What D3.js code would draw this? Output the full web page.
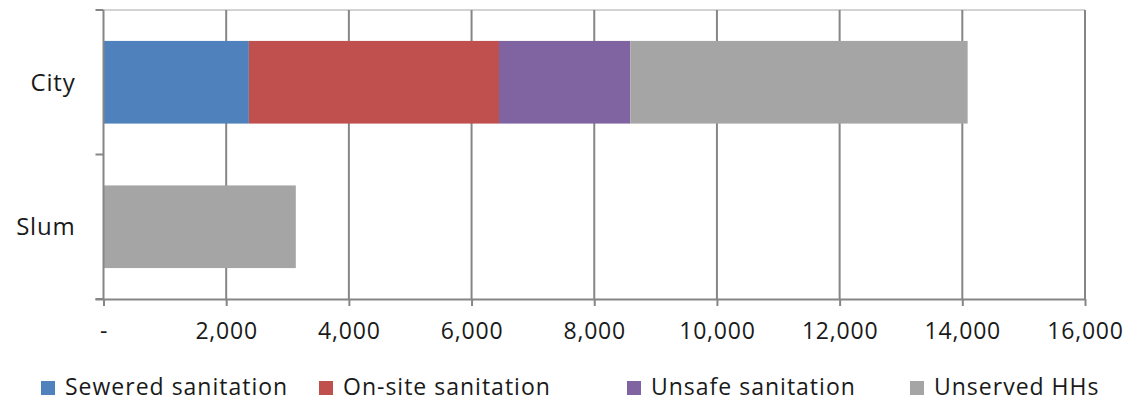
<!DOCTYPE html>
<html>
<head>
<meta charset="utf-8">
<script src="https://cdn.jsdelivr.net/npm/d3@7"></script>
<style>
  html, body { margin: 0; padding: 0; background: #fff; }
  svg { display: block; font-family: "Open Sans", "DejaVu Sans", sans-serif; }
</style>
</head>
<body>
<svg id="chart" width="1126" height="401"></svg>
<script>
// Households by sanitation type, city vs slum
const categories = ["City", "Slum"];
const seriesNames = ["Sewered sanitation", "On-site sanitation", "Unsafe sanitation", "Unserved HHs"];
const sewered = [2370, 0];
const onSite = [4077, 0];
const unsafe = [2141, 0];
const unserved = [5499, 3135];
const xTicks = [0, 2000, 4000, 6000, 8000, 10000, 12000, 14000, 16000];
const colors = ["#4F81BD", "#C0504D", "#8064A2", "#A5A5A5"];

const rows = categories.map((c, i) => ({
  category: c,
  "Sewered sanitation": sewered[i],
  "On-site sanitation": onSite[i],
  "Unsafe sanitation": unsafe[i],
  "Unserved HHs": unserved[i]
}));

const svg = d3.select("#chart");
const plot = { left: 103.5, right: 1085, top: 10, bottom: 299 };

const x = d3.scaleLinear().domain([0, 16000]).range([plot.left, plot.right]);
const y = d3.scaleBand().domain(categories).range([plot.top, plot.bottom])
  .paddingInner(0.428).paddingOuter(0.214);
const yCat = d3.scaleBand().domain(categories).range([plot.top, plot.bottom]);
const color = d3.scaleOrdinal().domain(seriesNames).range(colors);

const gridColor = "#868686";
const textColor = "#1a1a1a";

// top border of the plot area
svg.append("line")
  .attr("x1", plot.left).attr("x2", plot.right)
  .attr("y1", plot.top).attr("y2", plot.top)
  .attr("stroke", "#c4c4c4").attr("stroke-width", 1.5);

// vertical gridlines
svg.append("g").selectAll("line")
  .data(xTicks.slice(1))
  .join("line")
  .attr("x1", d => x(d)).attr("x2", d => x(d))
  .attr("y1", plot.top).attr("y2", plot.bottom)
  .attr("stroke", gridColor).attr("stroke-width", 2);

// stacked bars
const stack = d3.stack().keys(seriesNames)(rows);
svg.append("g").selectAll("g")
  .data(stack)
  .join("g")
  .attr("fill", d => color(d.key))
  .selectAll("rect")
  .data(d => d.filter(p => p[1] - p[0] > 0))
  .join("rect")
  .attr("x", d => x(d[0]))
  .attr("width", d => x(d[1]) - x(d[0]))
  .attr("y", d => y(d.data.category))
  .attr("height", y.bandwidth());

// x axis
const xAxis = svg.append("g")
  .attr("transform", `translate(0,${plot.bottom})`)
  .call(d3.axisBottom(x).tickValues(xTicks)
    .tickFormat(d => d === 0 ? "-" : d3.format(",")(d))
    .tickSize(7).tickPadding(17).tickSizeOuter(0));
xAxis.select(".domain").attr("stroke", gridColor).attr("stroke-width", 2)
  .attr("d", `M${plot.left - 8},0.5H${plot.right}`);
xAxis.selectAll(".tick line").attr("stroke", gridColor).attr("stroke-width", 2);
xAxis.selectAll(".tick text")
  .attr("fill", textColor)
  .style("font-size", "23px")
  .style("letter-spacing", "0.8px")
  .style("font-family", "'Open Sans', sans-serif");

// y axis (category boundaries as ticks)
const yAxisG = svg.append("g").attr("transform", `translate(${plot.left},0)`);
yAxisG.append("line")
  .attr("x1", 0).attr("x2", 0).attr("y1", plot.top).attr("y2", plot.bottom)
  .attr("stroke", gridColor).attr("stroke-width", 2);
const bounds = categories.map(c => yCat(c)).concat([plot.bottom]);
yAxisG.selectAll("line.tk")
  .data(bounds)
  .join("line").attr("class", "tk")
  .attr("x1", -8).attr("x2", 0)
  .attr("y1", d => d).attr("y2", d => d)
  .attr("stroke", gridColor).attr("stroke-width", 2);
yAxisG.selectAll("text")
  .data(categories)
  .join("text")
  .attr("x", -28)
  .attr("y", d => yCat(d) + yCat.bandwidth() / 2)
  .attr("dy", "0.36em")
  .attr("text-anchor", "end")
  .attr("fill", textColor)
  .style("font-size", "24px")
  .style("letter-spacing", "0.8px")
  .text(d => d);

// legend
const legendX = [41, 319, 627, 910];
const legend = svg.append("g").selectAll("g")
  .data(seriesNames)
  .join("g")
  .attr("transform", (d, i) => `translate(${legendX[i]},381)`);
legend.append("rect")
  .attr("width", 14).attr("height", 14)
  .attr("fill", d => color(d));
legend.append("text")
  .attr("x", 24).attr("y", 14)
  .attr("fill", textColor)
  .style("font-size", "23px")
  .style("letter-spacing", "1px")
  .text(d => d);
</script>
</body>
</html>
